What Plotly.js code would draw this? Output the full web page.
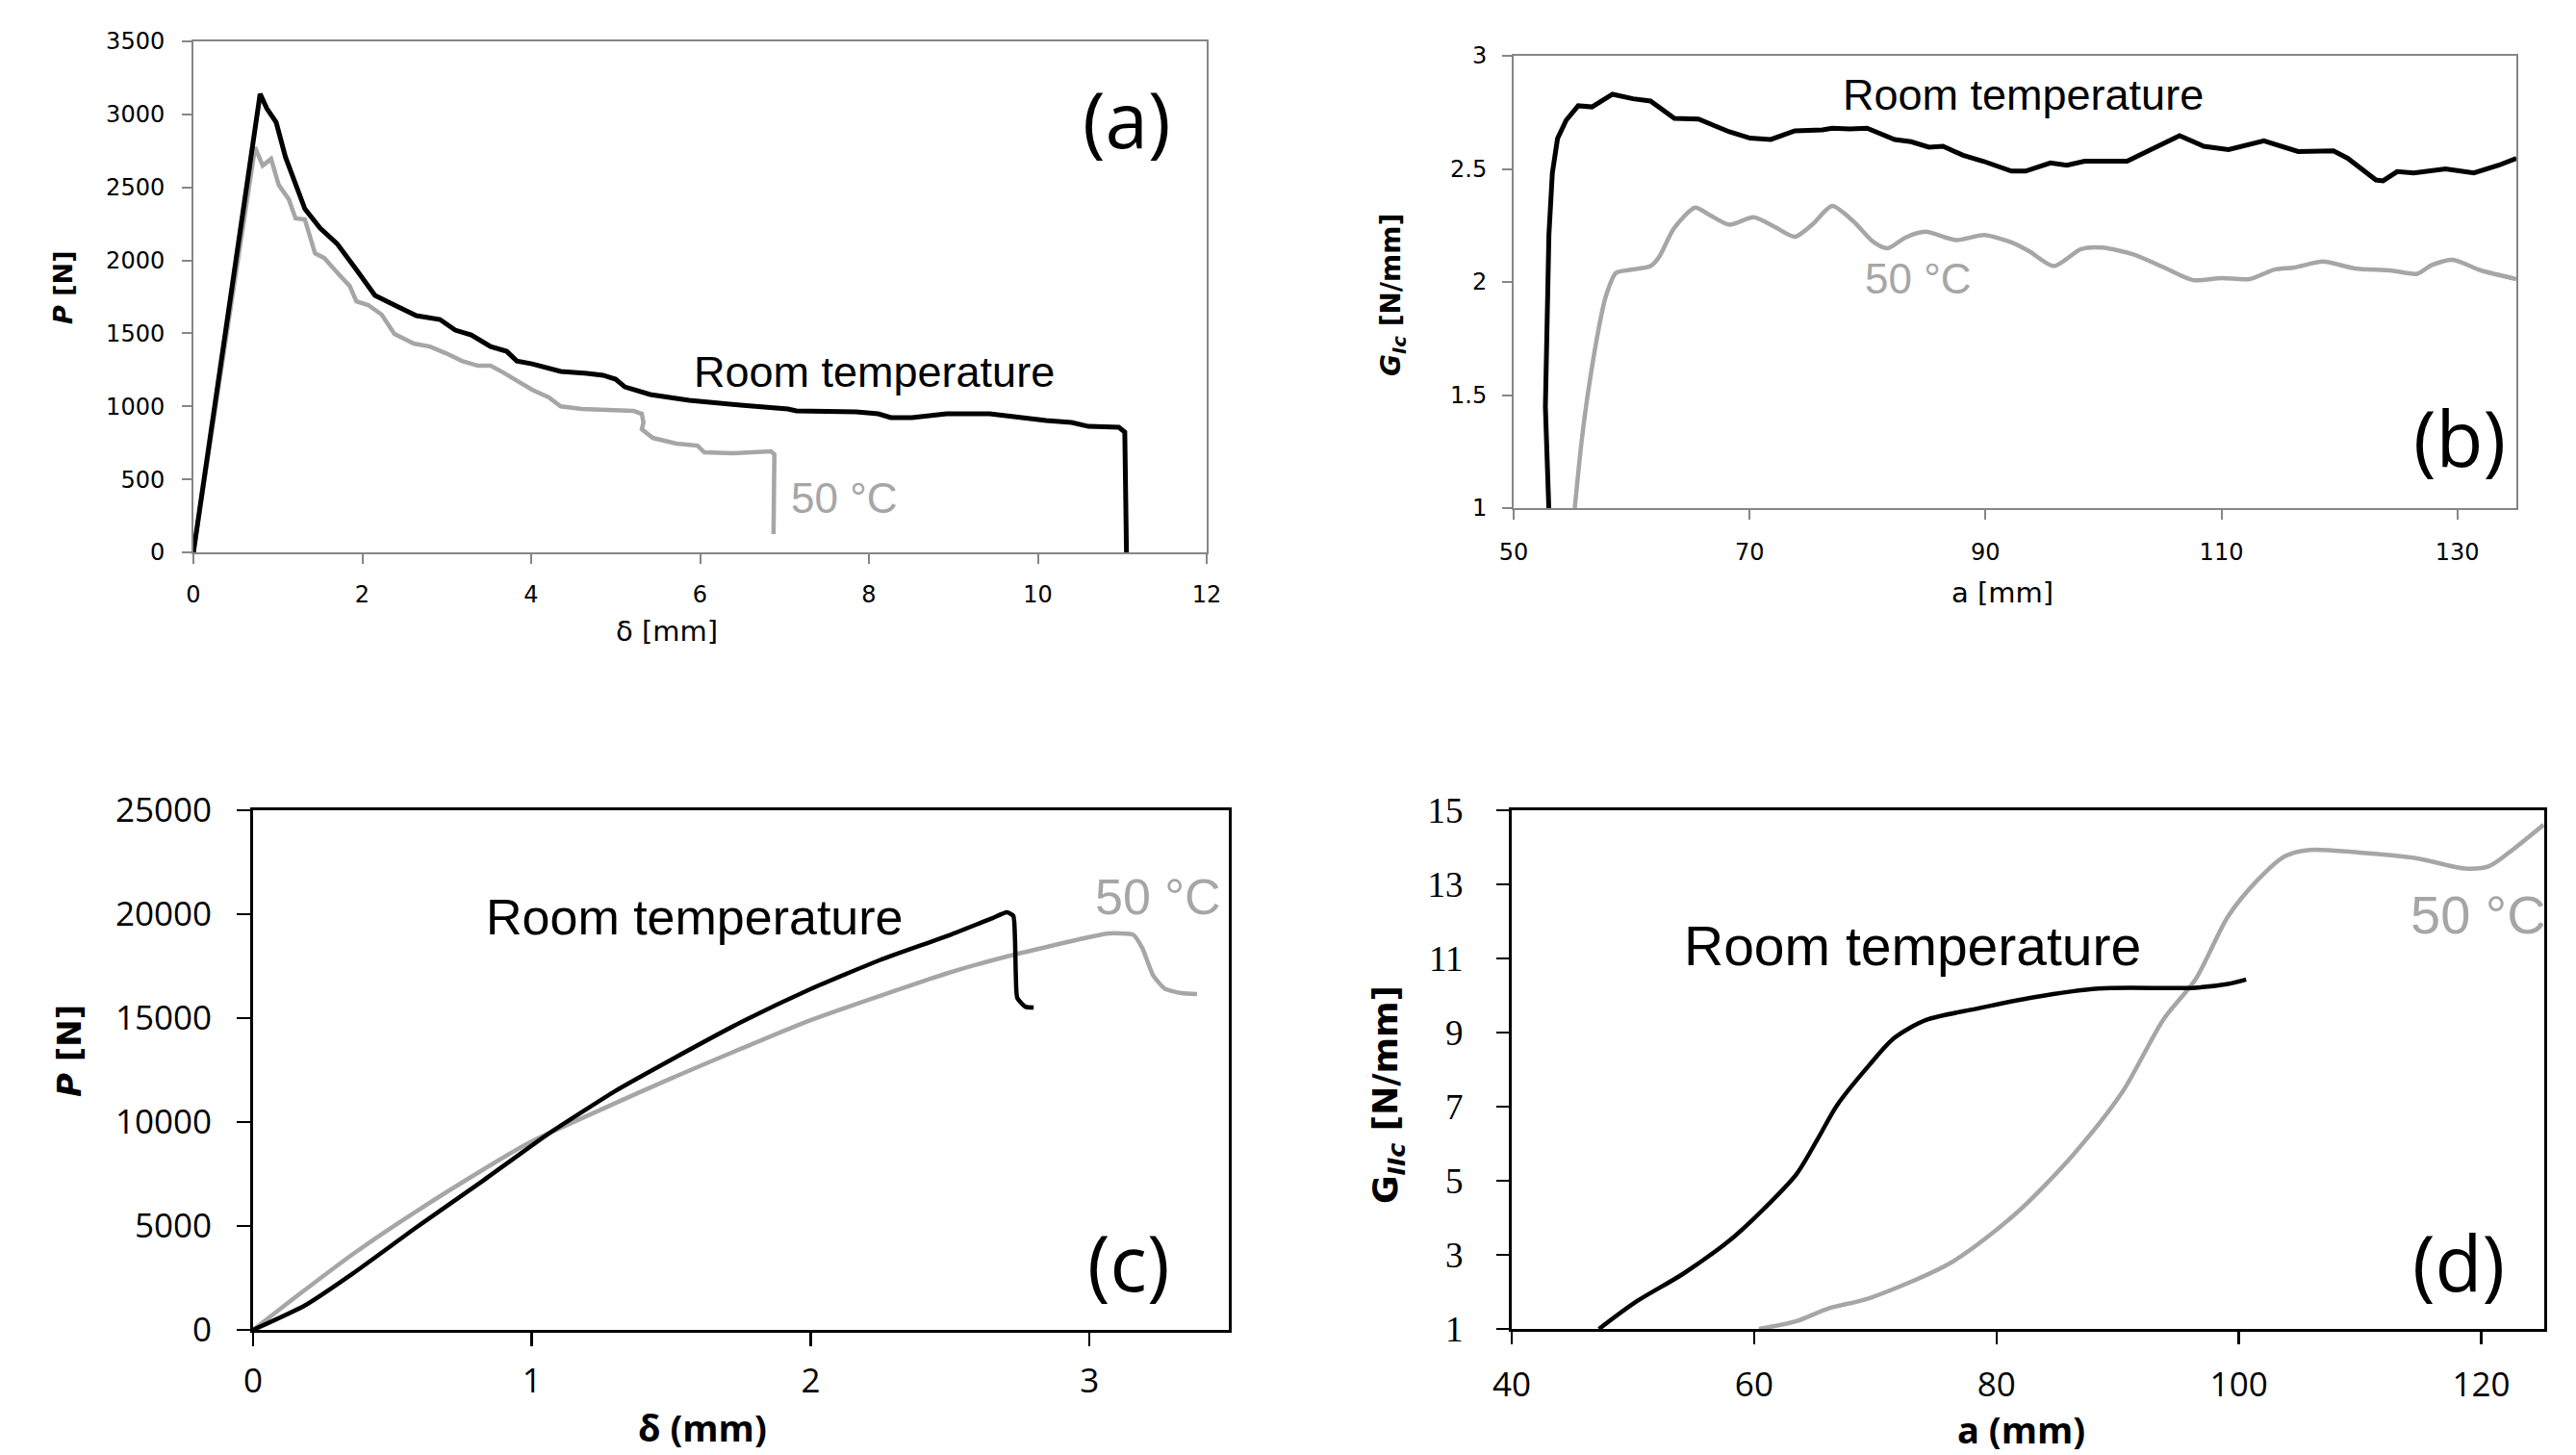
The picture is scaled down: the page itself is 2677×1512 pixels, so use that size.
<!DOCTYPE html>
<html>
<head>
<meta charset="utf-8">
<script src="https://cdn.plot.ly/plotly-3.0.1.min.js"></script>
<style>html,body{margin:0;padding:0;background:#fff;}#chart{width:2677px;height:1512px;}</style>
</head>
<body>
<div id="chart"></div>
<script>
// ---------- Panel (a): P vs delta (mode I) ----------
const aRoomX = [0, 0.79, 0.87, 0.98, 1.09, 1.21, 1.32, 1.50, 1.70, 1.93, 2.15, 2.38, 2.64, 2.92, 3.10, 3.29, 3.52, 3.71, 3.83, 4.01, 4.35, 4.66, 4.85, 5.00, 5.11, 5.41, 5.87, 6.48, 7.04, 7.14, 7.85, 8.11, 8.26, 8.51, 8.92, 9.43, 9.79, 10.10, 10.40, 10.60, 10.96, 11.03, 11.05];
const aRoomY = [0, 3140, 3040, 2946, 2708, 2511, 2353, 2221, 2115, 1937, 1760, 1694, 1621, 1595, 1522, 1489, 1410, 1377, 1311, 1291, 1239, 1226, 1213, 1186, 1133, 1081, 1041, 1008, 982, 969, 962, 949, 923, 923, 949, 949, 923, 903, 890, 863, 857, 824, 0];
const a50X = [0, 0.73, 0.82, 0.92, 1.01, 1.13, 1.21, 1.32, 1.44, 1.55, 1.70, 1.85, 1.93, 2.07, 2.23, 2.38, 2.61, 2.80, 2.99, 3.18, 3.37, 3.52, 3.67, 3.86, 4.01, 4.21, 4.35, 4.60, 5.21, 5.31, 5.33, 5.31, 5.44, 5.72, 5.97, 6.05, 6.38, 6.84, 6.88, 6.87];
const a50Y = [0, 2774, 2649, 2695, 2517, 2418, 2287, 2280, 2049, 2016, 1918, 1825, 1720, 1694, 1628, 1496, 1430, 1410, 1364, 1311, 1278, 1278, 1232, 1166, 1114, 1061, 1000, 982, 969, 949, 890, 843, 784, 745, 731, 685, 679, 692, 672, 125];

// ---------- Panel (b): G_Ic vs a ----------
const bRoomX = [52.98, 52.69, 52.99, 53.28, 53.72, 54.45, 55.47, 56.64, 58.38, 60.12, 61.6, 63.63, 65.67, 68.29, 70.05, 71.8, 73.84, 76.17, 77.0, 78.5, 79.96, 82.3, 83.7, 85.2, 86.4, 88.1, 89.8, 92.2, 93.4, 95.5, 96.9, 98.4, 102.0, 104.1, 106.45, 108.5, 110.6, 113.6, 116.5, 119.5, 120.7, 123.1, 123.7, 124.9, 126.3, 129.0, 131.4, 133.5, 135.0];
const bRoomY = [1.0, 1.448, 2.209, 2.481, 2.634, 2.715, 2.779, 2.774, 2.83, 2.81, 2.80, 2.723, 2.72, 2.664, 2.636, 2.63, 2.668, 2.672, 2.68, 2.677, 2.68, 2.63, 2.62, 2.596, 2.60, 2.56, 2.534, 2.49, 2.49, 2.526, 2.516, 2.534, 2.534, 2.585, 2.647, 2.60, 2.585, 2.624, 2.577, 2.58, 2.547, 2.451, 2.447, 2.488, 2.482, 2.50, 2.482, 2.516, 2.547];
const b50X = [55.18, 55.76, 56.34, 57.22, 57.8, 58.68, 60.1, 61.6, 62.3, 63.6, 65.38, 66.55, 68.29, 70.33, 72.09, 73.84, 75.3, 77.0, 78.8, 80.5, 81.7, 83.2, 84.9, 87.5, 89.87, 92.2, 93.7, 95.8, 98.1, 99.9, 102.6, 105.0, 107.6, 110.0, 112.4, 114.5, 116.2, 118.6, 121.3, 124.3, 126.6, 127.8, 129.6, 132.0, 135.0];
const b50Y = [1.0, 1.295, 1.523, 1.797, 1.934, 2.04, 2.055, 2.07, 2.108, 2.238, 2.329, 2.298, 2.253, 2.286, 2.245, 2.20, 2.253, 2.336, 2.268, 2.177, 2.149, 2.196, 2.222, 2.185, 2.207, 2.175, 2.136, 2.07, 2.145, 2.152, 2.121, 2.067, 2.008, 2.017, 2.013, 2.055, 2.064, 2.09, 2.06, 2.051, 2.036, 2.074, 2.098, 2.051, 2.013];

// ---------- Panel (c): P vs delta (mode II) ----------
const cRoomX = [0, 0.185, 0.358, 0.588, 0.818, 1.05, 1.3, 1.5, 1.75, 2.0, 2.25, 2.5, 2.65, 2.704, 2.727, 2.733, 2.736, 2.741, 2.77, 2.80];
const cRoomY = [0, 1171, 2716, 4954, 7115, 9350, 11500, 13000, 14800, 16400, 17800, 19000, 19800, 20090, 19916, 18800, 17065, 15980, 15550, 15510];
const c50X = [0, 0.128, 0.358, 0.588, 0.818, 1.0, 1.5, 2.0, 2.5, 2.7, 3.0, 3.07, 3.157, 3.19, 3.228, 3.27, 3.33, 3.386];
const c50Y = [0, 1329, 3644, 5726, 7653, 9070, 12100, 14900, 17200, 17950, 18900, 19074, 19010, 18360, 17065, 16417, 16200, 16157];

// ---------- Panel (d): G_IIc vs a ----------
const dRoomX = [47.2, 50.24, 54.2, 58.2, 60.8, 63.5, 65.2, 66.85, 69.5, 71.55, 74.2, 78.3, 83.0, 88.4, 96.4, 99.1, 100.6];
const dRoomY = [1.0, 1.73, 2.5, 3.45, 4.24, 5.18, 6.1, 7.04, 8.12, 8.85, 9.34, 9.64, 9.95, 10.19, 10.21, 10.31, 10.43];
const d50X = [60.4, 63.5, 66.1, 69.5, 76.3, 81.65, 86.35, 90.4, 93.75, 96.45, 99.1, 101.5, 103.8, 105.85, 109.9, 114.6, 118.64, 120.65, 122.65, 125.15];
const d50Y = [1.0, 1.21, 1.55, 1.83, 2.80, 4.13, 5.71, 7.40, 9.34, 10.45, 12.13, 13.10, 13.76, 13.93, 13.86, 13.71, 13.43, 13.49, 13.95, 14.61];

// ---------- Tick labels ----------
const aXTicks = [0, 2, 4, 6, 8, 10, 12];
const aYTicks = [0, 500, 1000, 1500, 2000, 2500, 3000, 3500];
const bXTicks = [50, 70, 90, 110, 130];
const bYTicks = [1, 1.5, 2, 2.5, 3];
const cXTicks = [0, 1, 2, 3];
const cYTicks = [0, 5000, 10000, 15000, 20000, 25000];
const dXTicks = [40, 60, 80, 100, 120];
const dYTicks = [1, 3, 5, 7, 9, 11, 13, 15];

const W = 2677, H = 1512;
const px = v => v / W;
const py = v => 1 - v / H;
const BLACK = '#000000', GRAY = '#a6a6a6';

function line(x, y, color, xa, ya, w, smooth) {
  const ln = {color: color, width: w || 4.5};
  if (smooth) { ln.shape = 'spline'; ln.smoothing = smooth; }
  return {x: x, y: y, type: 'scatter', mode: 'lines', xaxis: xa, yaxis: ya,
          line: ln, hoverinfo: 'skip', showlegend: false};
}

const data = [
  line(a50X, a50Y, GRAY, 'x', 'y'),
  line(aRoomX, aRoomY, BLACK, 'x', 'y', 5),
  line(b50X, b50Y, GRAY, 'x2', 'y2', 4.5, 0.7),
  line(bRoomX, bRoomY, BLACK, 'x2', 'y2', 5),
  line(c50X, c50Y, GRAY, 'x3', 'y3', 4.5, 0.5),
  line(cRoomX, cRoomY, BLACK, 'x3', 'y3', 4.5, 0.5),
  line(d50X, d50Y, GRAY, 'x4', 'y4', 4.5, 0.8),
  line(dRoomX, dRoomY, BLACK, 'x4', 'y4', 4.5, 0.8)
];

const dv = {family: 'DejaVu Sans', size: 24, color: '#000'};
const os = {family: 'Open Sans', size: 35, color: '#000'};
const tm = {family: 'Liberation Serif', size: 37, color: '#000'};

function ax(domain, range, ticks, font, opts) {
  return Object.assign({
    domain: domain, range: range, tickmode: 'array', tickvals: ticks,
    ticktext: ticks.map(String), tickfont: font, showgrid: false, zeroline: false,
    showline: true, mirror: true, ticks: 'outside', fixedrange: true
  }, opts);
}
const thin = {linecolor: '#868686', linewidth: 2, tickcolor: '#868686', tickwidth: 2, ticklen: 10};
const thick = {linecolor: '#000', linewidth: 3, tickcolor: '#000', tickwidth: 2.5, ticklen: 14};

const layout = {
  width: W, height: H, margin: {l: 0, r: 0, t: 0, b: 0}, paper_bgcolor: '#fff', plot_bgcolor: '#fff',
  showlegend: false,
  xaxis: ax([px(201), px(1254)], [0, 12], aXTicks, dv, Object.assign({anchor: 'y', ticklabelstandoff: 11}, thin)),
  yaxis: ax([py(574), py(43)], [0, 3500], aYTicks, dv, Object.assign({anchor: 'x', ticklabelstandoff: 13}, thin)),
  xaxis2: ax([px(1573), px(2615)], [50, 135], bXTicks, dv, Object.assign({anchor: 'y2', ticklabelstandoff: 13}, thin)),
  yaxis2: ax([py(528), py(58)], [1, 3], bYTicks, dv, Object.assign({anchor: 'x2', ticklabelstandoff: 11}, thin)),
  xaxis3: ax([px(263), px(1277)], [0, 3.5], cXTicks, os, Object.assign({anchor: 'y3', ticklabelstandoff: 6}, thick)),
  yaxis3: ax([py(1382), py(842)], [0, 25000], cYTicks, os, Object.assign({anchor: 'x3', ticklabelstandoff: 19}, thick)),
  xaxis4: ax([px(1571), px(2644)], [40, 125.2], dXTicks, os, Object.assign({anchor: 'y4', ticklabelstandoff: 12}, thick, {ticklen: 13})),
  yaxis4: ax([py(1381), py(842)], [1, 15], dYTicks, tm, Object.assign({anchor: 'x4', ticklabelstandoff: 27}, thick, {ticklen: 13})),
  annotations: []
};

function note(text, x, y, xr, yr, font, extra) {
  layout.annotations.push(Object.assign({text: text, x: x, y: y, xref: xr, yref: yr,
    showarrow: false, font: font, xanchor: 'left', yanchor: 'middle'}, extra || {}));
}
const ar = s => ({family: 'Liberation Sans, Arial, sans-serif', size: s, color: '#000'});
const arg = s => ({family: 'Liberation Sans, Arial, sans-serif', size: s, color: GRAY});
const lab = {family: 'Open Sans', size: 80, color: '#000'};

// curve labels
note('Room temperature', 5.90, 1239, 'x', 'y', ar(45));
note('50 °C', 7.05, 375, 'x', 'y', arg(44));
note('(a)', 11.05, 2979, 'x', 'y', lab, {xanchor: 'center'});
note('Room temperature', 77.75, 2.826, 'x2', 'y2', ar(45));
note('50 °C', 79.6, 2.013, 'x2', 'y2', arg(44));
note('(b)', 130.2, 1.319, 'x2', 'y2', lab, {xanchor: 'center'});
note('Room temperature', 0.828, 19860, 'x3', 'y3', ar(52));
note('50 °C', 3.013, 20830, 'x3', 'y3', arg(52));
note('(c)', 3.14, 3333, 'x3', 'y3', lab, {xanchor: 'center'});
note('Room temperature', 54.05, 11.34, 'x4', 'y4', ar(57));
note('50 °C', 114.0, 12.17, 'x4', 'y4', arg(56));
note('(d)', 118.1, 2.84, 'x4', 'y4', lab, {xanchor: 'center'});

// axis titles
const c = {xanchor: 'center', yanchor: 'middle'};
note('<b><i>P</i> [N]</b>', px(65), py(299), 'paper', 'paper', {family: 'DejaVu Sans', size: 27, color: '#000'}, Object.assign({textangle: -90}, c));
note('δ [mm]', px(693), py(656), 'paper', 'paper', {family: 'DejaVu Sans', size: 29, color: '#000'}, c);
note('<b><i>G</i><sub><i>Ic</i></sub> [N/mm]</b>', px(1447), py(307), 'paper', 'paper', {family: 'DejaVu Sans', size: 28, color: '#000'}, Object.assign({textangle: -90}, c));
note('a [mm]', px(2081), py(616), 'paper', 'paper', {family: 'DejaVu Sans', size: 29, color: '#000'}, c);
note('<b><i>P</i> [N]</b>', px(72), py(1092), 'paper', 'paper', {family: 'DejaVu Sans', size: 34, color: '#000'}, Object.assign({textangle: -90}, c));
note('<b>δ (mm)</b>', px(730), py(1483), 'paper', 'paper', {family: 'Open Sans', size: 38, color: '#000'}, c);
note('<b>G<sub><i>IIc</i></sub> [N/mm]</b>', px(1442), py(1138), 'paper', 'paper', {family: 'DejaVu Sans', size: 36, color: '#000'}, Object.assign({textangle: -90}, c));
note('<b>a (mm)</b>', px(2100), py(1485), 'paper', 'paper', {family: 'Open Sans', size: 38, color: '#000'}, c);

Plotly.newPlot('chart', data, layout, {staticPlot: true, displayModeBar: false});
</script>
</body>
</html>
